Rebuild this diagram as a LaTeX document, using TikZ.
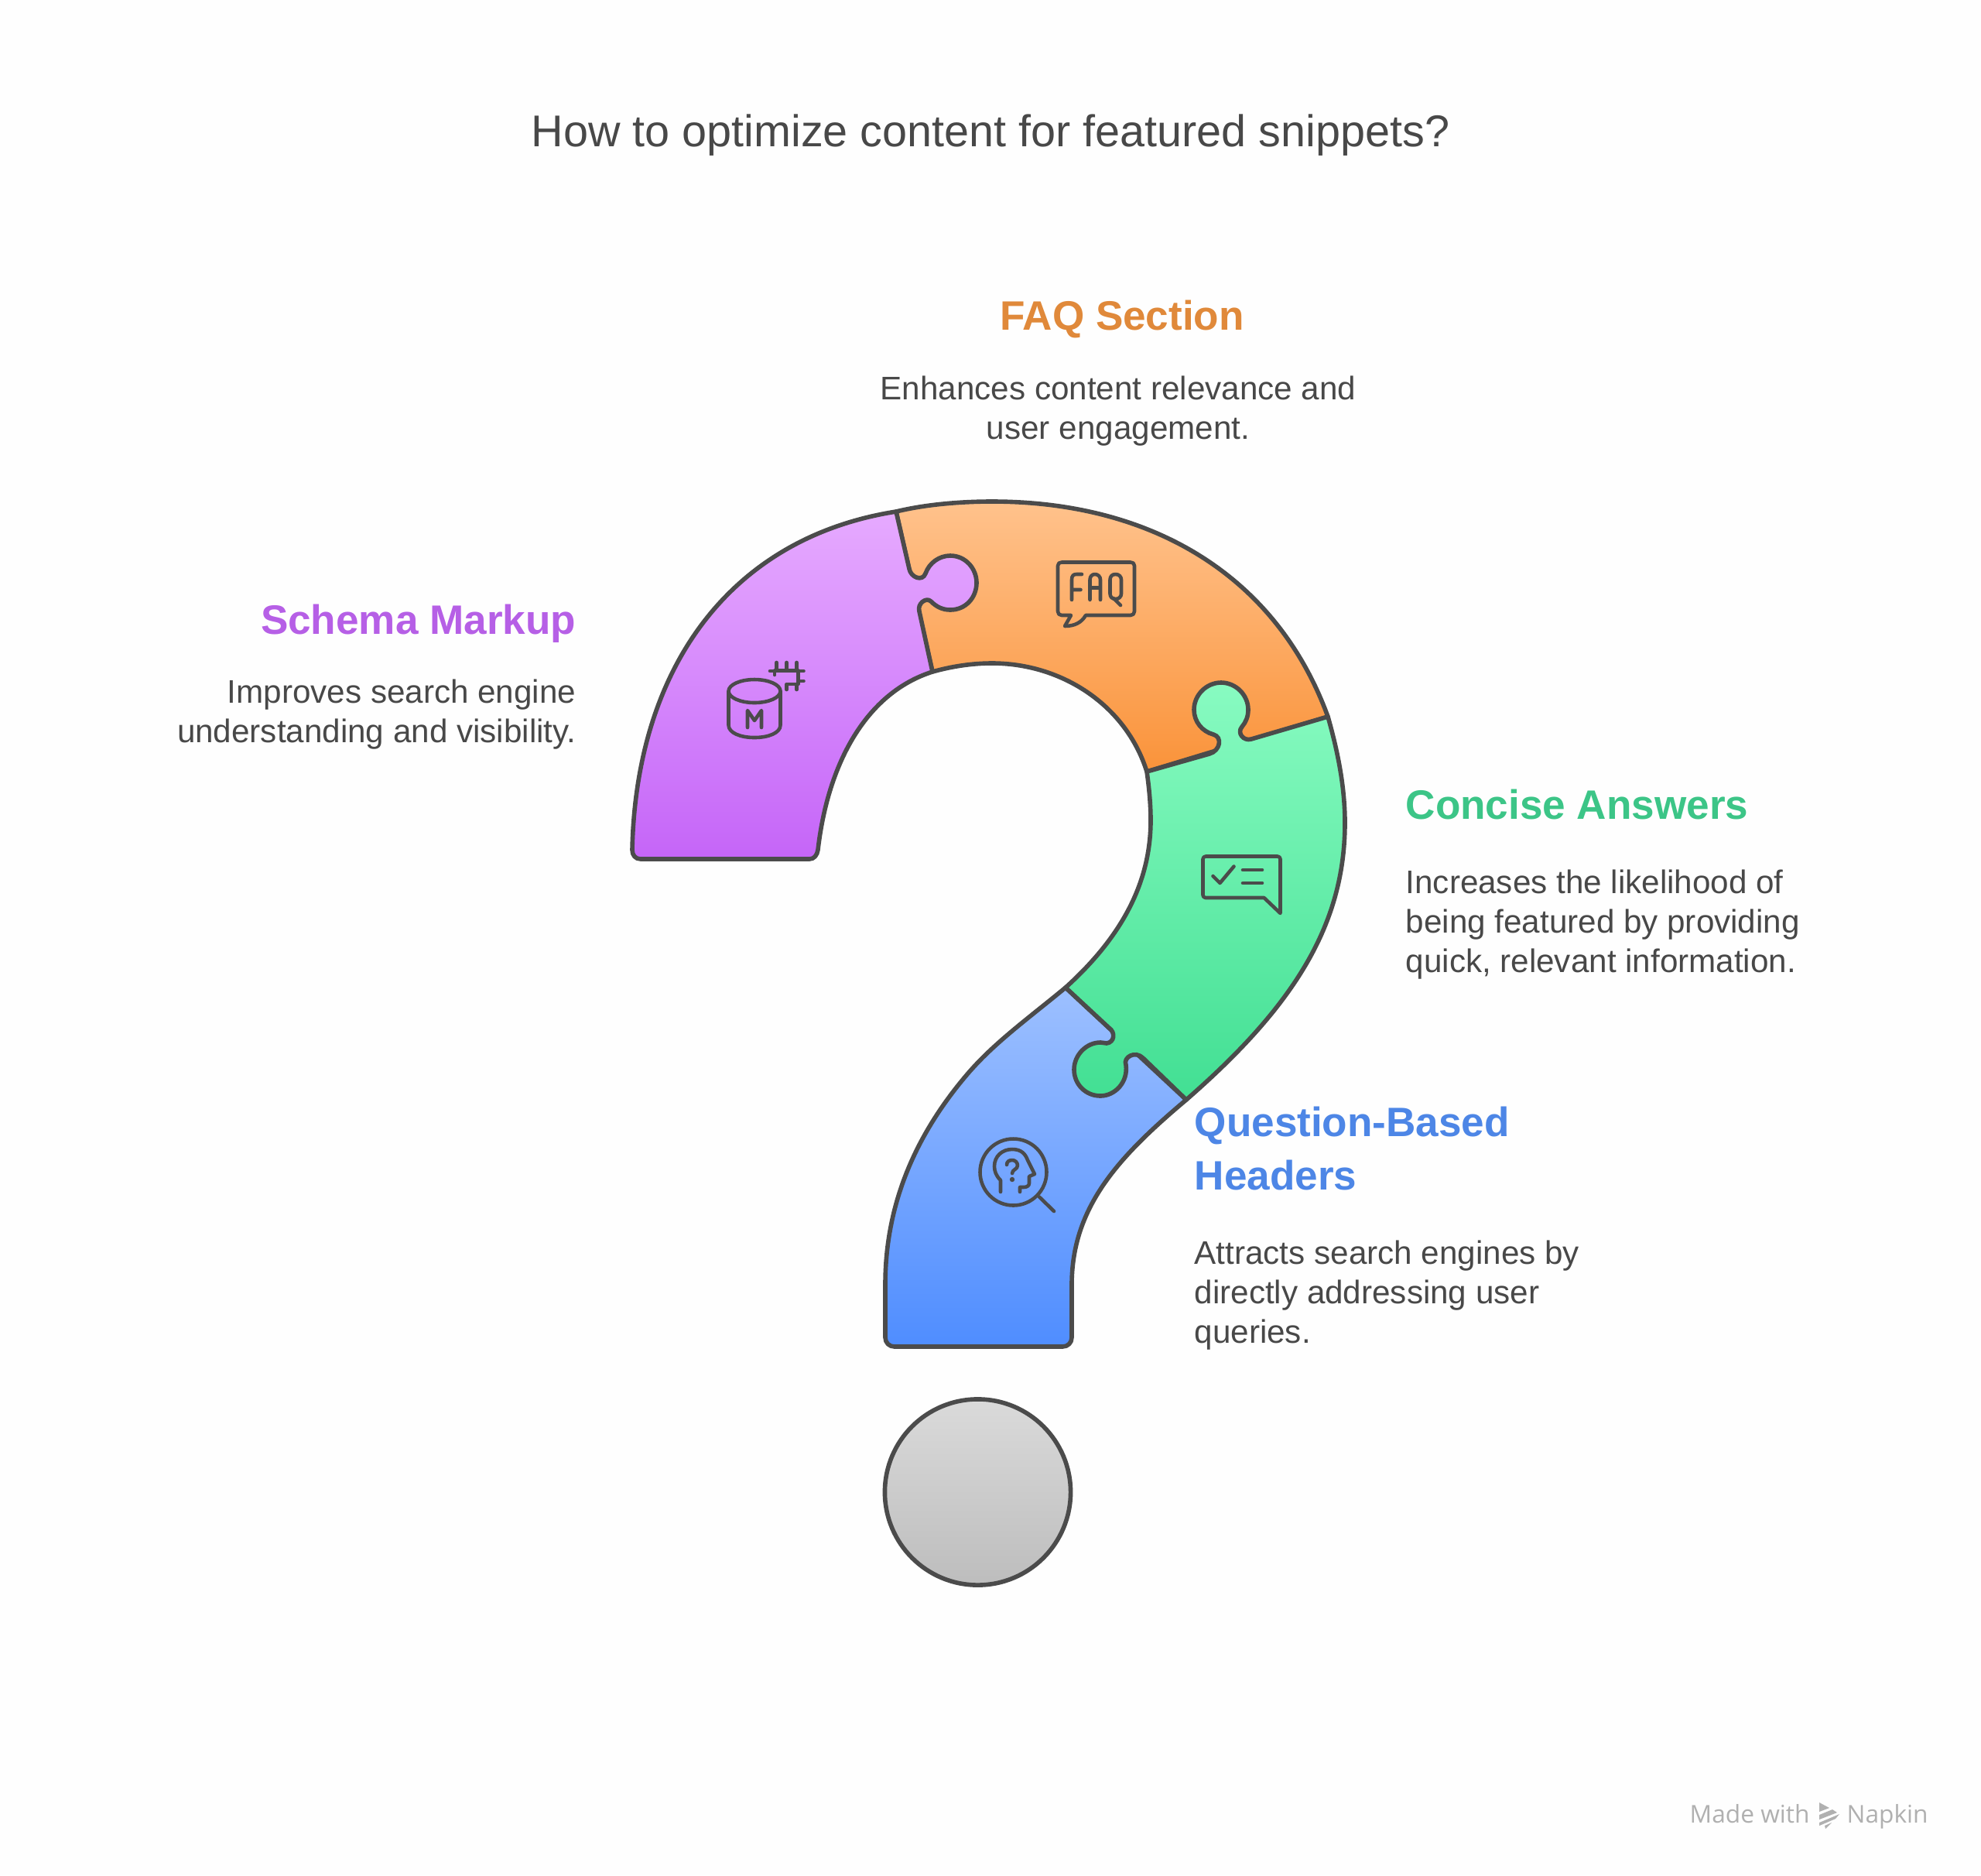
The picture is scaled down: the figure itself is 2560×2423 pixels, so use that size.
\documentclass[tikz,border=0pt]{standalone}
\usepackage{fontspec}
\setmainfont{Liberation Sans}
\newfontfamily\napkinfont{Open Sans}
\definecolor{linec}{HTML}{4B4B4B}
\definecolor{textc}{HTML}{484848}
\definecolor{bgc}{HTML}{FEFEFE}
\definecolor{marksc}{HTML}{B0B0B0}
\definecolor{purplehead}{HTML}{B65FE6}
\definecolor{orangehead}{HTML}{E0893A}
\definecolor{greenhead}{HTML}{3CC587}
\definecolor{bluehead}{HTML}{4D86E6}
\definecolor{purpletop}{HTML}{E6AAFF}
\definecolor{purplebot}{HTML}{C565F8}
\definecolor{orangetop}{HTML}{FFC28C}
\definecolor{orangebot}{HTML}{FA933A}
\definecolor{greentop}{HTML}{88FBC1}
\definecolor{greenbot}{HTML}{42DF93}
\definecolor{bluetop}{HTML}{9DC0FF}
\definecolor{bluebot}{HTML}{4F8DFF}
\definecolor{greytop}{HTML}{DADADA}
\definecolor{greybot}{HTML}{BDBDBD}
\tikzset{
  piece/.style={draw=linec,line width=1.6pt,line join=round},
  icon/.style={draw=linec,line width=1.3pt,line cap=round,line join=round},
  headtext/.style={inner sep=0pt,font=\fontsize{15.1}{17}\selectfont\bfseries},
  bodytext/.style={inner sep=0pt,text=textc,font=\fontsize{12}{14.6}\selectfont},
}
\begin{document}
\begin{tikzpicture}[x=0.01cm,y=-0.01cm]
\path[use as bounding box,fill=bgc] (0,0) rectangle (2560,2423);

\node[inner sep=0pt,anchor=base,text=textc,font=\fontsize{16.36}{18}\selectfont] (title) at (1280,189) {How to optimize content for featured snippets?};

\draw[piece,top color=bluetop,bottom color=bluebot] (1144,1660) .. controls (1144,1560) and (1180,1470) .. (1250,1388) .. controls (1285,1347) and (1330,1315) .. (1377,1276) -- (1533,1421) .. controls (1445,1495) and (1385,1560) .. (1385,1660) -- (1385,1728) .. controls (1385,1735) and (1380,1740) .. (1373,1740) -- (1156,1740) .. controls (1149,1740) and (1144,1735) .. (1144,1728) -- cycle;

\draw[piece,top color=orangetop,bottom color=orangebot] (1158,661) .. controls (1195,652) and (1240,648) .. (1282,648) .. controls (1490,648) and (1650,745) .. (1716,926) -- (1482,997) .. controls (1455,911) and (1372,857) .. (1282,857) .. controls (1256,857) and (1230,861) .. (1205,868) -- cycle;

\draw[piece,top color=greentop,bottom color=greenbot] (1482,997) -- (1563,974) .. controls (1577,970) and (1580,952) .. (1568,949) .. controls (1553,945) and (1543,932) .. (1543,917) .. controls (1543,898) and (1559,882) .. (1578,882) .. controls (1597,882) and (1613,898) .. (1613,917) .. controls (1613,926) and (1610,933) .. (1605,939) .. controls (1598,947) and (1607,958) .. (1617,955) -- (1716,926) .. controls (1730,975) and (1738,1020) .. (1738,1063) .. controls (1738,1195) and (1672,1300) .. (1533,1421) -- (1477,1367) .. controls (1467,1357) and (1451,1366) .. (1455,1376) .. controls (1458,1398) and (1441,1416) .. (1422,1416) .. controls (1403,1416) and (1388,1401) .. (1388,1382) .. controls (1388,1363) and (1404,1347) .. (1422,1347) .. controls (1425,1347) and (1428,1348) .. (1430,1348) .. controls (1440,1347) and (1442,1334) .. (1433,1328) -- (1377,1276) .. controls (1450,1210) and (1487,1140) .. (1487,1060) .. controls (1487,1040) and (1485,1018) .. (1482,997) -- cycle;

\draw[piece,top color=purpletop,bottom color=purplebot] (817,1098) .. controls (822,865) and (942,695) .. (1158,661) -- (1175,735) .. controls (1177,746) and (1192,752) .. (1196,741) .. controls (1201,727) and (1214,718) .. (1228,718) .. controls (1248,718) and (1262,735) .. (1262,753) .. controls (1262,772) and (1248,788) .. (1228,788) .. controls (1218,788) and (1210,784) .. (1203,777) .. controls (1197,771) and (1185,780) .. (1188,790) -- (1205,868) .. controls (1120,895) and (1070,985) .. (1057,1098) .. controls (1056,1105) and (1052,1110) .. (1046,1110) -- (828,1110) .. controls (821,1110) and (817,1105) .. (817,1098) -- cycle;

\node[piece,circle,inner sep=0pt,minimum size=2.4cm,top color=greytop,bottom color=greybot] (dot) at (1263.5,1928) {};

% database icon
\draw[icon] (975,893) ellipse [x radius=33.5,y radius=15];
\draw[icon] (941.5,893) -- (941.5,937) .. controls (941.5,947) and (957,953) .. (975,953) .. controls (993,953) and (1008.5,947) .. (1008.5,937) -- (1008.5,893);
\draw[icon] (966,940) -- (966,918) -- (975,931) -- (984,918) -- (984,940);
\draw[icon] (1001,872) -- (1001,866.5) -- (1031.5,866.5) -- (1031.5,884) -- (1016.5,884) -- (1016.5,891);
\draw[icon] (995,867) -- (1001,867) (1003.5,856) -- (1003.5,866) (1016.5,856) -- (1016.5,866) (1029.5,856) -- (1029.5,866);
\draw[icon] (1031.5,867) -- (1038.5,867) (1031.5,880) -- (1038.5,880) (1029.5,884) -- (1029.5,891);

% faq icon
\draw[icon] (1372,726.5) -- (1461,726.5) .. controls (1464,726.5) and (1466,728) .. (1466,731) -- (1466,790) .. controls (1466,793) and (1464,795) .. (1461,795) -- (1403,795) .. controls (1398,804) and (1389,809) .. (1376,809) -- (1384,795) -- (1372,795) .. controls (1369,795) and (1367,793) .. (1367,790) -- (1367,731) .. controls (1367,728) and (1369,726.5) .. (1372,726.5) -- cycle;
\draw[icon] (1385,775) -- (1385,749) .. controls (1385,744) and (1387,742) .. (1391,742) -- (1398,742) (1385,762) -- (1396.5,762);
\draw[icon] (1408.5,775) -- (1408.5,749) .. controls (1408.5,745) and (1411,742) .. (1415,742) .. controls (1419,742) and (1422,745) .. (1422,749) -- (1422,775) (1408.5,759.5) -- (1422,759.5);
\draw[icon] (1449,767) -- (1449,749) .. controls (1449,745) and (1446,742) .. (1441.5,742) .. controls (1437,742) and (1434.5,745) .. (1434.5,749) -- (1434.5,767) .. controls (1434.5,771) and (1437,774) .. (1441.5,774) .. controls (1446,774) and (1449,771) .. (1449,767) (1439,773) -- (1448,782);

% checklist icon
\draw[icon] (1558,1106.5) -- (1651,1106.5) .. controls (1653,1106.5) and (1654.5,1108) .. (1654.5,1110) -- (1654.5,1180) -- (1633.5,1160) -- (1558,1160) .. controls (1556,1160) and (1554.5,1158.5) .. (1554.5,1156.5) -- (1554.5,1110) .. controls (1554.5,1108) and (1556,1106.5) .. (1558,1106.5) -- cycle;
\draw[icon] (1567.5,1132) -- (1576.5,1141) -- (1594.5,1119.5);
\draw[icon] (1606,1124) -- (1631,1124) (1606,1141) -- (1631,1141);

% head icon
\draw[icon] (1309.5,1514.5) circle [radius=43];
\draw[icon] (1343,1546.5) -- (1362,1565);
\draw[icon] (1293,1540) -- (1293,1525) .. controls (1287,1519) and (1285,1513) .. (1285,1507) .. controls (1285,1494) and (1295,1485) .. (1308,1485) .. controls (1320,1485) and (1325,1491) .. (1328,1499) -- (1337,1517) -- (1330,1520) -- (1330,1529) .. controls (1330,1532) and (1327,1534) .. (1323,1534) -- (1318,1534) -- (1318,1540);
\draw[icon] (1301,1505) .. controls (1301,1501) and (1304,1499) .. (1308,1499) .. controls (1312,1499) and (1315,1502) .. (1315,1506) .. controls (1315,1511) and (1308,1511) .. (1308,1516);
\fill[linec] (1308,1524) circle [radius=3.2];

% labels
\node[headtext,text=orangehead,anchor=base] (faqhead) at (1450,426) {FAQ Section};
\node[bodytext,align=center,anchor=north] (faqbody) at (1445,485) {Enhances content relevance and\\user engagement.};
\node[headtext,text=purplehead,anchor=base east] (schemahead) at (745,819) {Schema Markup};
\node[bodytext,align=right,anchor=north east] (schemabody) at (745,877) {Improves search engine\\understanding and visibility.};
\node[headtext,text=greenhead,anchor=base west] (concisehead) at (1816,1058) {Concise Answers};
\node[bodytext,align=left,anchor=north west] (concisebody) at (1816,1123) {Increases the likelihood of\\being featured by providing\\quick, relevant information.};
\node[headtext,text=bluehead,align=left,anchor=north west,font=\fontsize{15.1}{19.6}\selectfont\bfseries] (questionhead) at (1543,1429) {Question-Based\\Headers};
\node[bodytext,align=left,anchor=north west] (questionbody) at (1543,1602) {Attracts search engines by\\directly addressing user\\queries.};

% footer
\node[inner sep=0pt,anchor=base west,text=marksc,font=\fontsize{9}{11}\napkinfont] (madewith) at (2183,2355) {Made with};
\node[inner sep=0pt,anchor=base west,text=marksc,font=\fontsize{9}{11}\napkinfont] (napkin) at (2386,2355) {Napkin};
\fill[marksc] (2351,2329) -- (2364,2336) -- (2351,2341) -- cycle;
\fill[marksc] (2351,2345) -- (2368,2338) -- (2374,2342) -- (2351,2351) -- cycle;
\fill[marksc] (2351,2355) -- (2377,2344) -- (2372,2350) -- (2351,2359) -- cycle;
\fill[marksc] (2358,2359) -- (2367,2355) -- (2359,2363) -- cycle;
\end{tikzpicture}
\end{document}
